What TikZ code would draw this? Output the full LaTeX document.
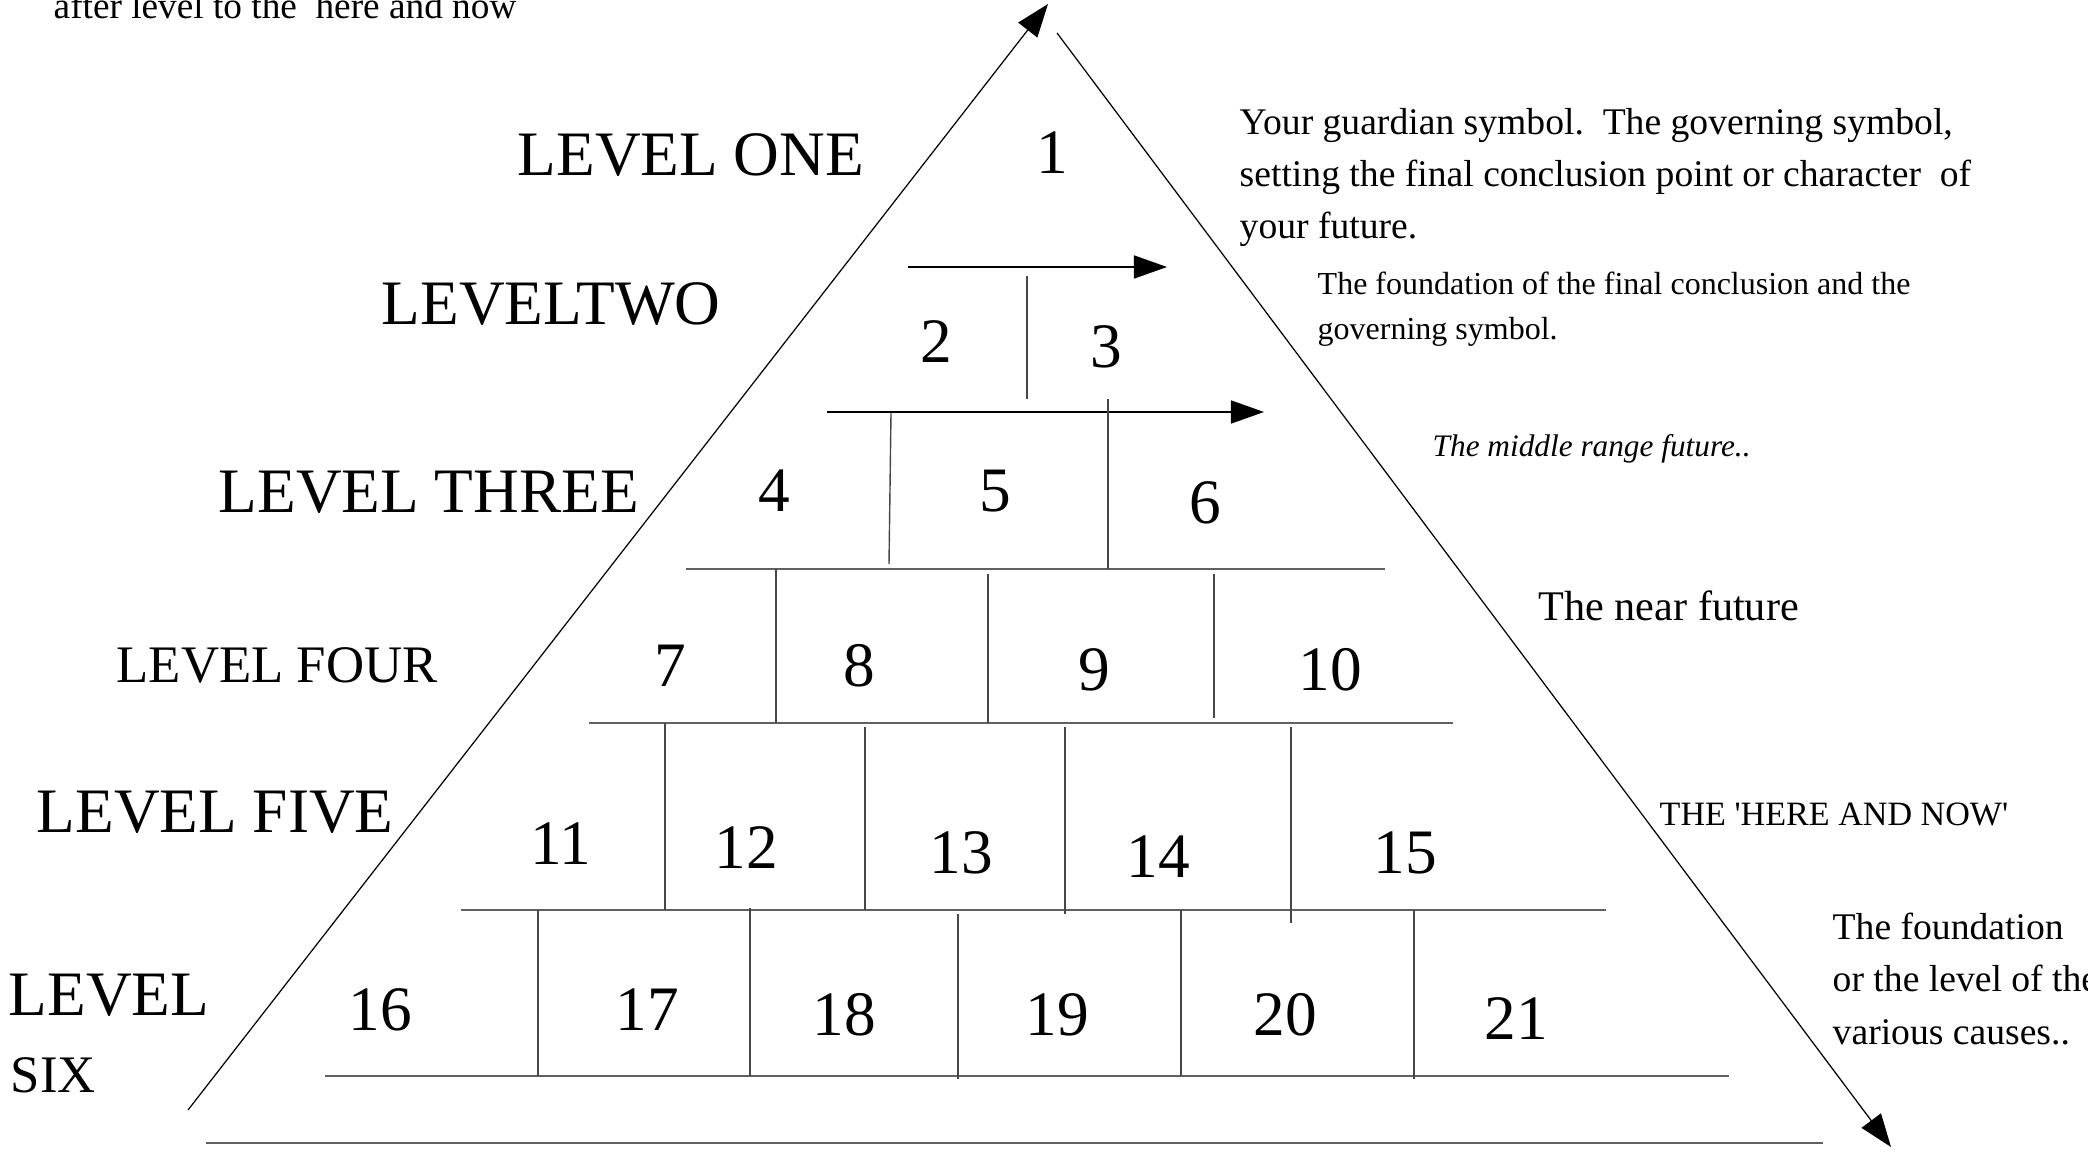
\documentclass[tikz,border=0pt]{standalone}
\usepackage{fontspec}
\setmainfont{Liberation Serif}
\usetikzlibrary{arrows.meta}

\begin{document}
\begin{tikzpicture}[x=0.01cm, y=-0.01cm,
    edge/.style={black, line width=0.35pt},
    flow/.style={black, line width=0.45pt, -{Triangle[length=3.3mm, width=2.3mm]}},
    floor/.style={black!62, line width=0.6pt},
    wall/.style={black!72, line width=0.4pt},
    num/.style={inner sep=0pt, font=\fontsize{18}{18}\selectfont},
    lvl/.style={inner sep=0pt, anchor=base west, font=\fontsize{18}{18}\selectfont},
    note/.style={inner sep=0pt, anchor=base west, align=left}]

  \useasboundingbox (0,0) rectangle (2088,1152);

  % ---- the two sides of the pyramid ----
  \coordinate (leftfoot) at (188,1110);
  \coordinate (apex) at (1048,4);
  \coordinate (rightstart) at (1057,33);
  \coordinate (rightfoot) at (1891,1147);
  \draw[edge, -{Triangle[length=3.3mm, width=2.4mm]}] (leftfoot) -- (apex);
  \draw[edge, -{Triangle[length=3.3mm, width=2.4mm]}] (rightstart) -- (rightfoot);

  % ---- level two and three arrows ----
  \draw[flow] (908,267) -- (1167,267);
  \draw[flow] (827,412) -- (1264,412);

  % ---- floors ----
  \draw[floor] (686,569) -- (1385,569);
  \draw[floor] (589,723) -- (1453,723);
  \draw[floor] (461,910) -- (1606,910);
  \draw[floor] (325,1076) -- (1729,1076);
  \draw[floor] (206,1143) -- (1823,1143);

  % ---- walls between the cells ----
  \draw[wall] (1027,276) -- (1027,399);
  \draw[wall] (891,413) -- (889,564);
  \draw[wall] (1108,399) -- (1108,569);
  \draw[wall] (776,569) -- (776,723);
  \draw[wall] (988,574) -- (988,723);
  \draw[wall] (1214,574) -- (1214,718);
  \draw[wall] (665,723) -- (665,910);
  \draw[wall] (865,727) -- (865,910);
  \draw[wall] (1065,727) -- (1065,914);
  \draw[wall] (1291,727) -- (1291,923);
  \draw[wall] (538,910) -- (538,1076);
  \draw[wall] (750,908) -- (750,1076);
  \draw[wall] (958,914) -- (958,1079);
  \draw[wall] (1181,910) -- (1181,1076);
  \draw[wall] (1414,910) -- (1414,1079);

  % ---- cell numbers ----
  \foreach \n/\x/\y in {1/1052/153, 2/936/342, 3/1106/347,
      4/774/491, 5/995/491, 6/1205/503,
      7/670/666, 8/859/666, 9/1094/670, 10/1330/670,
      11/561/844, 12/746/848, 13/961/853, 14/1158/857, 15/1405/853,
      16/380/1010, 17/647/1010, 18/844/1015, 19/1057/1015, 20/1285/1015, 21/1516/1019}
    \node[num] (cell\n) at (\x,\y) {\n};

  % ---- level names on the left ----
  \node[lvl] (lvlone) at (517,176) {LEVEL ONE};
  \node[lvl] (lvltwo) at (381,325) {LEVELTWO};
  \node[lvl] (lvlthree) at (218,512) {LEVEL THREE};
  \node[lvl, font=\fontsize{15}{15}\selectfont] (lvlfour) at (116,682) {LEVEL FOUR};
  \node[lvl] (lvlfive) at (36,832) {LEVEL FIVE};
  \node[lvl] (lvlsix) at (8,1015) {LEVEL};
  \node[lvl, font=\fontsize{15}{15}\selectfont] (lvlsixb) at (10,1092) {SIX};

  % ---- notes (base = last line) ----
  \node[note, font=\fontsize{10.6}{10.6}\selectfont] (toptext) at (53,19) {after level to the\ \ here and now};
  \node[note, font=\fontsize{10.7}{14.8}\selectfont] (guardian) at (1239,239)
    {Your guardian symbol.\ \ The governing symbol,\\setting the final conclusion point or character\ \ of\\your future.};
  \node[note, font=\fontsize{9.1}{12.8}\selectfont] (basefinal) at (1317,340)
    {The foundation of the final conclusion and the\\governing symbol.};
  \node[note, font=\fontsize{8.9}{8.9}\selectfont\itshape] (midrange) at (1432,457) {The middle range future..};
  \node[note, font=\fontsize{12}{12}\selectfont] (nearfut) at (1538,620) {The near future};
  \node[note, font=\fontsize{9.7}{9.7}\selectfont] (herenow) at (1659,825)
    {THE \textquotesingle HERE AND NOW\textquotesingle};
  \node[note, font=\fontsize{10.7}{14.8}\selectfont] (causes) at (1832,1044)
    {The foundation\\or the level of the\\various causes..};

\end{tikzpicture}
\end{document}
